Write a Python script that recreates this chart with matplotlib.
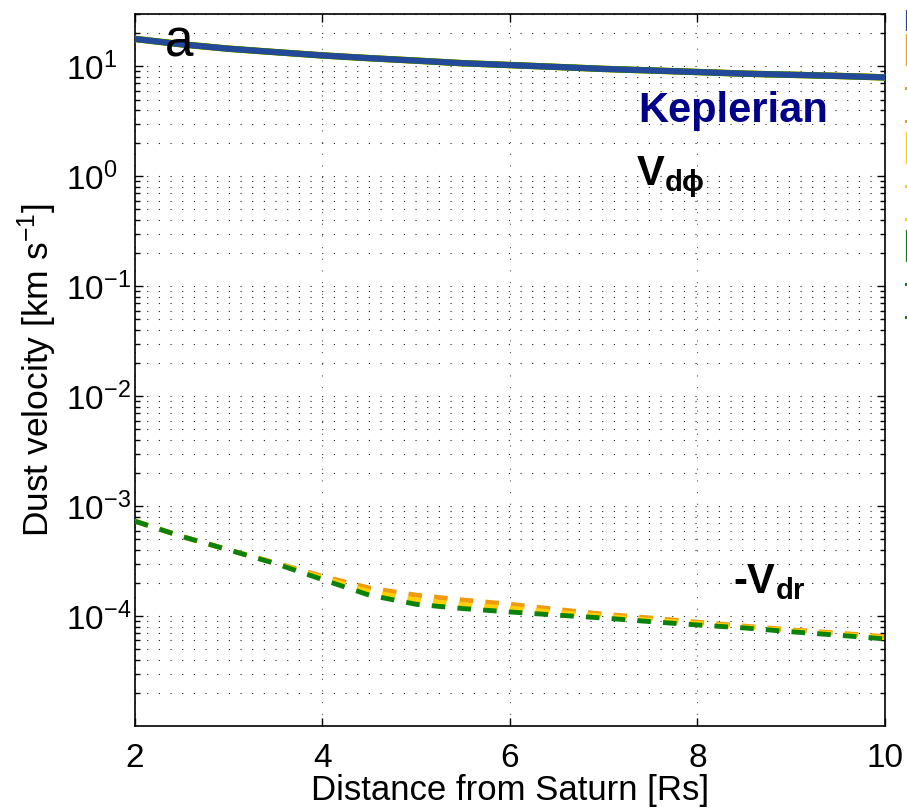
import matplotlib
matplotlib.use("Agg")
import matplotlib.pyplot as plt
from matplotlib.lines import Line2D
from matplotlib.path import Path
import numpy as np

plt.rcParams['font.family'] = ['Liberation Sans', 'DejaVu Sans']
plt.rcParams['mathtext.fontset'] = 'custom'
plt.rcParams['mathtext.rm'] = 'Liberation Sans'
plt.rcParams['mathtext.it'] = 'Liberation Sans:italic'
plt.rcParams['mathtext.bf'] = 'Liberation Sans:bold'
plt.rcParams['axes.unicode_minus'] = True

# ---- data ----
r = [2, 2.5, 3, 3.5, 4, 4.5, 5, 5.5, 6, 6.5, 7, 7.5, 8, 8.5, 9, 9.5, 10]
v_kepler = [17.8, 15.9, 14.5, 13.5, 12.6, 11.9, 11.3, 10.7, 10.3, 9.9, 9.5, 9.2, 8.9, 8.6, 8.4, 8.2, 7.95]
vphi_orange = [17.8, 15.9, 14.5, 13.5, 12.6, 11.9, 11.3, 10.7, 10.3, 9.9, 9.5, 9.2, 8.9, 8.6, 8.4, 8.2, 7.95]
vphi_yellow = [17.8, 15.9, 14.5, 13.5, 12.6, 11.9, 11.3, 10.7, 10.3, 9.9, 9.5, 9.2, 8.9, 8.6, 8.4, 8.2, 7.95]
vphi_green = [17.8, 15.9, 14.5, 13.5, 12.6, 11.9, 11.3, 10.7, 10.3, 9.9, 9.5, 9.2, 8.9, 8.6, 8.4, 8.2, 7.95]
vr_orange = [7.3e-4, 5.3e-4, 4.0e-4, 3.05e-4, 2.3e-4, 1.8e-4, 1.55e-4, 1.4e-4, 1.28e-4, 1.15e-4,
             1.04e-4, 9.6e-5, 8.8e-5, 8.1e-5, 7.5e-5, 7.0e-5, 6.5e-5]
vr_yellow = [7.3e-4, 5.3e-4, 4.0e-4, 3.02e-4, 2.22e-4, 1.67e-4, 1.4e-4, 1.27e-4, 1.18e-4, 1.08e-4,
             1.0e-4, 9.2e-5, 8.55e-5, 7.95e-5, 7.35e-5, 6.85e-5, 6.35e-5]
vr_green = [7.3e-4, 5.3e-4, 4.0e-4, 3.0e-4, 2.15e-4, 1.55e-4, 1.28e-4, 1.17e-4, 1.09e-4, 1.02e-4,
            9.6e-5, 8.9e-5, 8.3e-5, 7.8e-5, 7.2e-5, 6.7e-5, 6.2e-5]
x_ticks = [2, 4, 6, 8, 10]

BLUE = '#24489a'
ORANGE = '#f09a0c'
YELLOW = '#ffd000'
GREEN = '#0b820b'

fig = plt.figure(figsize=(9.07, 8.10), dpi=100)
ax = fig.add_axes([0.1488, 0.1037, 0.9757 - 0.1488, 0.9827 - 0.1037])
ax.set_yscale('log')

dash = (0, (2.8, 2.5))
for vp, vr, c in [(vphi_orange, vr_orange, ORANGE), (vphi_yellow, vr_yellow, YELLOW),
                  (vphi_green, vr_green, GREEN)]:
    ax.plot(r, vp, color=c, lw=4.6, solid_capstyle='butt', zorder=3)
    ax.plot(r, vr, color=c, lw=3.5, linestyle=dash, zorder=3)
ax.plot(r, v_kepler, color=BLUE, lw=4.2, solid_capstyle='butt', zorder=4)

ax.set_xlim(2, 10)
ax.set_ylim(1e-5, 30)
ax.set_xticks(x_ticks)
ax.set_xticklabels([str(t) for t in x_ticks])
ax.set_yticks([1e-4, 1e-3, 1e-2, 1e-1, 1e0, 1e1])
ax.yaxis.set_minor_locator(matplotlib.ticker.LogLocator(base=10, subs=np.arange(2, 10), numticks=20))
ax.yaxis.set_minor_formatter(matplotlib.ticker.NullFormatter())

ax.tick_params(which='both', direction='in', top=True, right=True, labelsize=24, width=1.0)
ax.tick_params(which='major', length=6)
ax.tick_params(axis='y', which='major', pad=50)
ax.tick_params(axis='x', which='major', pad=12)
ax.tick_params(which='minor', length=3.5)
for lbl in ax.get_yticklabels():
    lbl.set_horizontalalignment('left')
for s in ax.spines.values():
    s.set_linewidth(1.2)

grid_ls = (0, (1, 9.5))
ax.grid(True, which='major', axis='x', linestyle=grid_ls, color='#555555', lw=0.8)
ax.grid(True, which='both', axis='y', linestyle=grid_ls, color='#222222', lw=0.8)
ax.set_axisbelow(True)

ax.set_xlabel('Distance from Saturn [Rs]', fontsize=25, labelpad=0)
ax.set_ylabel(r'Dust velocity [km s$^{\mathregular{-1}}$]', fontsize=25.5, labelpad=5)

ax.text(2.32, 12.3, 'a', fontsize=37, ha='left', va='baseline', zorder=5)
ax.text(7.37, 3.1, 'Keplerian', fontsize=30, fontweight='bold', color='#000088',
        ha='left', va='baseline', zorder=5)
ax.text(7.34, 0.83, r'$\mathbf{V}_{\mathbf{dϕ}}$', fontsize=30, ha='left', va='baseline', zorder=5)
ax.text(8.38, 1.62e-4, r'-$\mathbf{V}_{\mathbf{dr}}$', fontsize=30, fontweight='bold',
        ha='left', va='baseline', zorder=5)

# clipped legend at right edge
sq = Path([(-1, -5.5), (1, -5.5), (1, -3.5), (-1, -3.5), (-1, -5.5)])
vline_low = Path([(0, 7), (0, -14)])
handles = [Line2D([], [], color=BLUE, marker=vline_low, markersize=20, mew=1.6,
                  markerfacecolor='none', linestyle='none')]
labels = ['Keplerian']
for c, name in [(ORANGE, 'small'), (YELLOW, 'medium'), (GREEN, 'large')]:
    handles.append(Line2D([], [], color=c, marker='|', markersize=23, mew=1.6, linestyle='none'))
    handles.append(Line2D([], [], color=c, marker=sq, markersize=12, mew=0, linestyle='none'))
    handles.append(Line2D([], [], color=c, marker=sq, markersize=12, mew=0, linestyle='none'))
    labels += ['V_phi ' + name, '-V_r ' + name, '-V_z ' + name]
leg = fig.legend(handles, labels, loc='upper left', bbox_to_anchor=(906.5 / 907, 1 - 11 / 810),
                 frameon=False, borderpad=0, borderaxespad=0, handlelength=0, handletextpad=2,
                 labelspacing=1.05, fontsize=12)

fig.savefig('out.png', dpi=100)
